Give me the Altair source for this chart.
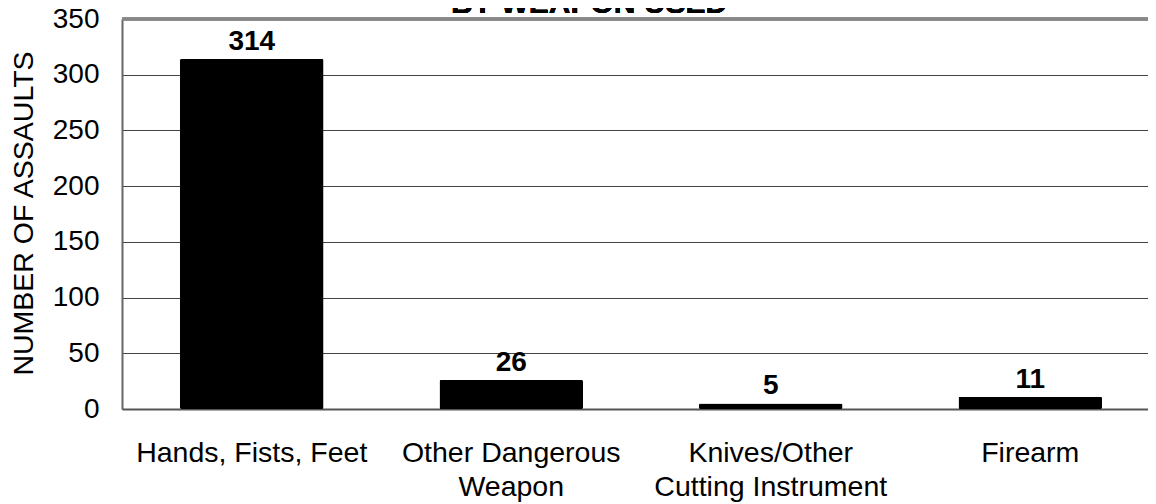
import altair as alt
import pandas as pd

categories = ["Hands, Fists, Feet", "Other Dangerous Weapon",
              "Knives/Other Cutting Instrument", "Firearm"]
label_lines = [["Hands, Fists, Feet"], ["Other Dangerous", "Weapon"],
               ["Knives/Other", "Cutting Instrument"], ["Firearm"]]
counts = [314, 26, 5, 11]
y_ticks = [0, 50, 100, 150, 200, 250, 300, 350]
title_text = "BY WEAPON USED"
y_title = "NUMBER OF ASSAULTS"

df = pd.DataFrame({"weapon": categories, "count": counts})

# build multi-line label expression from the lists
expr = "''"
for cat, lines in reversed(list(zip(categories, label_lines))):
    arr = "[" + ",".join("'" + l + "'" for l in lines) + "]"
    expr = f"datum.value == '{cat}' ? {arr} : ({expr})"

FONT = "Liberation Sans"

x_enc = alt.X(
    "weapon:N", sort=categories, title=None,
    scale=alt.Scale(type="band", paddingInner=0.447, paddingOuter=0.2235, range=[0, 1038]),
    axis=alt.Axis(labelExpr=expr, labelAngle=0, labelFontSize=28.5, labelFont=FONT,
                  labelColor="black", labelPadding=29, labelLineHeight=34,
                  ticks=False, domainColor="#555", domainWidth=2, grid=False,
                  labelOverlap=False, labelLimit=400),
)
y_enc = alt.Y(
    "count:Q", title=y_title,
    scale=alt.Scale(domain=[0, 350], nice=False),
    axis=alt.Axis(values=y_ticks, labelFontSize=28, labelFont=FONT, labelColor="black",
                  labelPadding=23, ticks=False, domainColor="#666", domainWidth=2,
                  grid=True, gridColor="#444", gridWidth=1,
                  titleFontSize=28.5, titleFont=FONT, titleFontWeight="normal",
                  titleColor="black", titleAngle=-90, titleX=-99, titleY=194,
                  titleAlign="center", titleBaseline="middle"),
)

bars = alt.Chart(df).mark_bar(color="black", cornerRadius=1.5).encode(x=x_enc, y=y_enc)

labels = alt.Chart(df).mark_text(fontSize=28, fontWeight="bold", font=FONT, color="black",
                                 baseline="alphabetic", dy=-9).encode(
    x=alt.X("weapon:N", sort=categories), y="count:Q", text="count:Q")

top_border = alt.Chart(df).mark_rule(color="#888", strokeWidth=3).encode(y=alt.datum(350))

title_mark = alt.Chart(df).mark_text(text=title_text, fontSize=30, fontWeight="bold",
                                     font=FONT, color="black", align="center",
                                     baseline="alphabetic").encode(
    x=alt.value(467), y=alt.value(-6))

chart = alt.layer(bars, labels, top_border, title_mark).properties(
    width=1026, height=390,
    autosize=alt.AutoSizeParams(type="none"),
    padding={"left": 114, "top": 11, "right": 0, "bottom": 95},
).configure_view(stroke=None).configure(font=FONT)

chart.save("out.html", embed_options={"renderer": "svg", "actions": False})
